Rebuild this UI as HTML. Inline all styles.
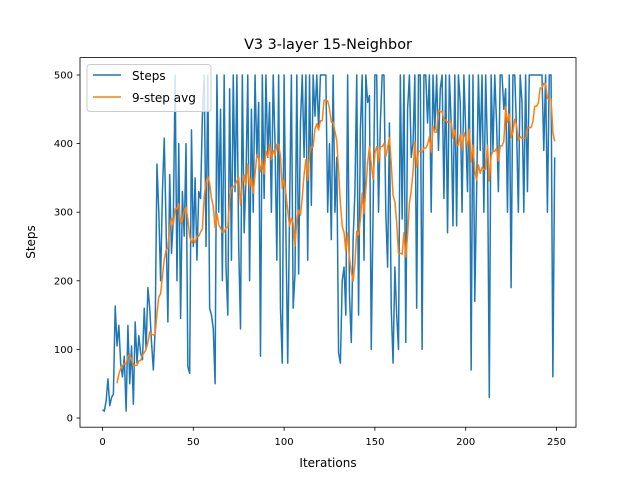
<!DOCTYPE html>
<html><head><meta charset="utf-8"><style>
body{margin:0;background:#fff;font-family:"Liberation Sans","DejaVu Sans",sans-serif}
svg text{font-family:"DejaVu Sans","Liberation Sans",sans-serif}
</style></head><body>
<svg id="chart" width="640" height="480" xmlns="http://www.w3.org/2000/svg">
<rect width="640" height="480" fill="#fff"/>
<text x="328" y="49" text-anchor="middle" font-size="14.4">V3 3-layer 15-Neighbor</text>
<g id="series"></g>
<rect x="80" y="57.6" width="496" height="369.6" fill="none" stroke="#000" stroke-width="0.8"/>
<g id="ticks"></g>
<text x="328" y="467" text-anchor="middle" font-size="12">Iterations</text>
<text transform="translate(35,242) rotate(-90)" text-anchor="middle" font-size="12">Steps</text>
<g>
<rect x="87" y="64.5" width="124" height="47" rx="3" fill="#fff" fill-opacity="0.8" stroke="#ccc"/>
<line x1="93" y1="75" x2="121" y2="75" stroke="#1f77b4" stroke-width="1.5"/>
<text x="132" y="80" font-size="12">Steps</text>
<line x1="93" y1="97" x2="121" y2="97" stroke="#ff7f0e" stroke-width="1.5"/>
<text x="132" y="102" font-size="12">9-step avg</text>
</g>
</svg>
<script>
const steps=[12,10,25,57,18,30,35,163,105,135,80,60,90,10,135,50,105,20,140,80,120,95,85,160,100,190,160,110,70,130,
370,300,200,330,408,280,140,355,240,290,500,200,400,145,330,265,400,75,65,420,250,350,230,330,320,440,500,250,500,160,
150,130,50,500,300,450,200,500,220,150,480,230,500,330,500,250,130,500,270,350,500,200,450,300,500,380,460,90,500,320,
500,380,460,300,500,400,230,500,160,80,500,270,80,300,500,160,210,500,210,430,500,380,500,230,500,310,500,440,500,420,
500,500,500,500,300,400,260,500,300,380,95,80,200,220,150,500,180,110,260,330,500,150,420,500,230,500,460,470,100,300,
500,500,300,430,500,500,300,220,430,160,80,220,150,100,500,290,500,110,450,500,380,400,500,160,500,500,100,500,500,430,
500,300,500,420,500,390,480,500,320,500,270,500,430,280,500,280,500,460,300,500,420,330,500,70,500,170,330,500,390,500,
300,500,390,30,500,390,500,430,330,500,500,450,480,300,500,190,500,500,420,300,500,460,300,500,330,500,500,500,500,500,
500,500,500,390,500,300,500,500,60,380];
const window9=9;
const xTicks=[0,50,100,150,200,250];
const yTicks=[0,100,200,300,400,500];
const X=v=>102.5+v*1.816, Y=v=>418-v*0.686;
const NS="http://www.w3.org/2000/svg";
const g=document.getElementById('series'), t=document.getElementById('ticks');
function mk(tag,a,p){const e=document.createElementNS(NS,tag);for(const k in a)e.setAttribute(k,a[k]);p.appendChild(e);return e;}
const sp=mk('polyline',{points:steps.map((v,i)=>X(i)+','+Y(v)).join(' '),fill:'none',stroke:'#1f77b4','stroke-width':1.5,'stroke-linejoin':'round'},g);


const avg=[];for(let i=window9-1;i<steps.length;i++){let s=0;for(let j=i-window9+1;j<=i;j++)s+=steps[j];avg.push([i,s/window9]);}
const ap=mk('polyline',{points:avg.map(p=>X(p[0])+','+Y(p[1])).join(' '),fill:'none',stroke:'#ff7f0e','stroke-width':1.5,'stroke-linejoin':'round'},g);


xTicks.forEach(v=>{mk('line',{x1:X(v),x2:X(v),y1:427.2,y2:430.7,stroke:'#000','stroke-width':0.8},t);
const tx=mk('text',{x:X(v),y:445,'text-anchor':'middle','font-size':10},t);tx.textContent=v;

});
yTicks.forEach(v=>{mk('line',{x1:76.5,x2:80,y1:Y(v),y2:Y(v),stroke:'#000','stroke-width':0.8},t);
const tx=mk('text',{x:73,y:Y(v)+3.5,'text-anchor':'end','font-size':10},t);tx.textContent=v;

});
</script>
</body></html>
